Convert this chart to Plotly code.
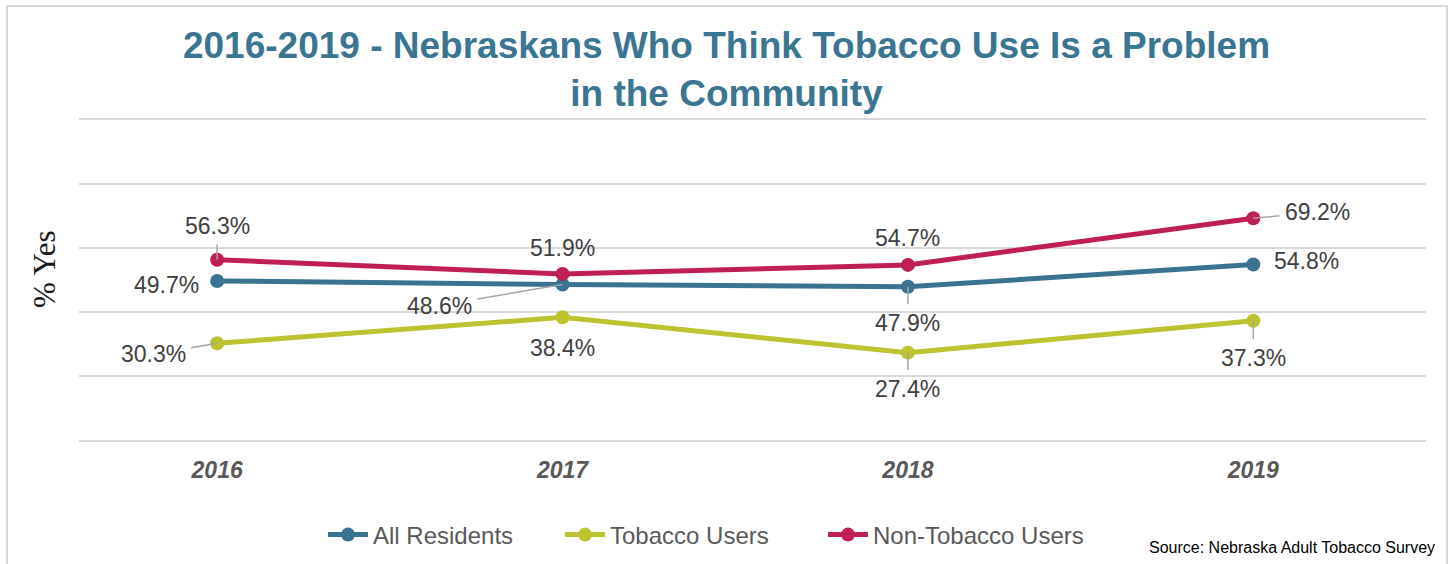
import plotly.graph_objects as go

# ---------------- data ----------------
years = ["2016", "2017", "2018", "2019"]
all_residents = [49.7, 48.6, 47.9, 54.8]
tobacco_users = [30.3, 38.4, 27.4, 37.3]
non_tobacco_users = [56.3, 51.9, 54.7, 69.2]

series_names = ["All Residents", "Tobacco Users", "Non-Tobacco Users"]
series_values = [all_residents, tobacco_users, non_tobacco_users]
series_colors = ["#3A7391", "#BDC231", "#C01F55"]

title_text = "2016-2019 - Nebraskans Who Think Tobacco Use Is a Problem<br>in the Community"
y_title = "% Yes"
source_text = "Source: Nebraska Adult Tobacco Survey"

# label placement (pixel offsets of label centre from point, leader line flag)
label_offsets = [
    [(-51, 4, False), (-123, 21, True), (0, 36, True), (53, -4, False)],
    [(-64, 11, True), (0, 31, False), (0, 36, True), (0, 37, True)],
    [(0, -34, True), (0, -26, False), (0, -27, False), (64, -6, True)],
]
# legend entry left positions (px in the 1453-wide canvas)
legend_left_px = [323, 560, 823]

FONT = "Arial, Liberation Sans, sans-serif"

fig = go.Figure()
legend_ids = ["legend", "legend2", "legend3"]
for name, vals, col, lid in zip(series_names, series_values, series_colors, legend_ids):
    fig.add_trace(go.Scatter(
        x=years, y=vals, name=name, mode="lines+markers",
        line=dict(color=col, width=5),
        marker=dict(color=col, size=14),
        hoverinfo="skip", legend=lid,
    ))

annotations = []
for vals, offs in zip(series_values, label_offsets):
    for i, (v, (dx, dy, leader)) in enumerate(zip(vals, offs)):
        annotations.append(dict(
            x=i, y=v, xref="x", yref="y",
            text=f"{v:.1f}%",
            showarrow=True, ax=dx, ay=dy,
            arrowhead=0, arrowwidth=1.5,
            arrowcolor="#A6A6A6" if leader else "rgba(255,255,255,0)",
            standoff=0, borderpad=5,
            font=dict(family=FONT, size=23, color="#404040"),
        ))

annotations.append(dict(
    x=-0.0252, y=0.534, xref="paper", yref="paper",
    text=y_title, textangle=-90, showarrow=False,
    xanchor="center", yanchor="middle",
    font=dict(family="Times New Roman, Liberation Serif, serif", size=31, color="#1a1a1a"),
))
annotations.append(dict(
    x=1.0082, y=-0.327, xref="paper", yref="paper",
    text=source_text, showarrow=False,
    xanchor="right", yanchor="middle",
    font=dict(family=FONT, size=16, color="#000000"),
))

legend_style = dict(
    orientation="h", xref="container", yref="container",
    xanchor="left", y=1 - 535 / 564, yanchor="middle",
    font=dict(family=FONT, size=24, color="#595959"),
    itemwidth=40,
)

fig.update_layout(
    width=1453, height=564,
    margin=dict(l=79, r=27, t=118, b=122),
    paper_bgcolor="white", plot_bgcolor="white",
    title=dict(
        text=title_text, x=0.5, xref="container", xanchor="center",
        y=1 - 58 / 564, yref="container", yanchor="top",
        font=dict(family=FONT, size=37, color="#3A7691", weight="bold"),
    ),
    xaxis=dict(
        type="category", range=[-0.4, 3.5],
        showgrid=False, zeroline=False, showline=False,
        ticks="", ticklabelstandoff=12,
        tickfont=dict(family=FONT, size=23, color="#595959", weight="bold", style="italic"),
    ),
    yaxis=dict(
        range=[-0.4, 100.4], tickvals=[0, 20, 40, 60, 80, 100], showticklabels=False,
        showgrid=True, gridcolor="#D9D9D9", gridwidth=1.5,
        zeroline=False, showline=False,
    ),
    legend=dict(x=legend_left_px[0] / 1453, **legend_style),
    legend2=dict(x=legend_left_px[1] / 1453, **legend_style),
    legend3=dict(x=legend_left_px[2] / 1453, **legend_style),
    annotations=annotations,
    shapes=[dict(
        type="rect", xref="paper", yref="paper",
        x0=(7 - 79) / 1347, x1=(1447 - 79) / 1347,
        y0=(442 - 600) / 324, y1=(442 - 6) / 324,
        line=dict(color="#D9D9D9", width=2), fillcolor="rgba(0,0,0,0)",
        layer="below",
    )],
    showlegend=True,
)

fig.write_html("out.html", config={"displayModeBar": False},
               post_script="document.body.style.margin='0';")
